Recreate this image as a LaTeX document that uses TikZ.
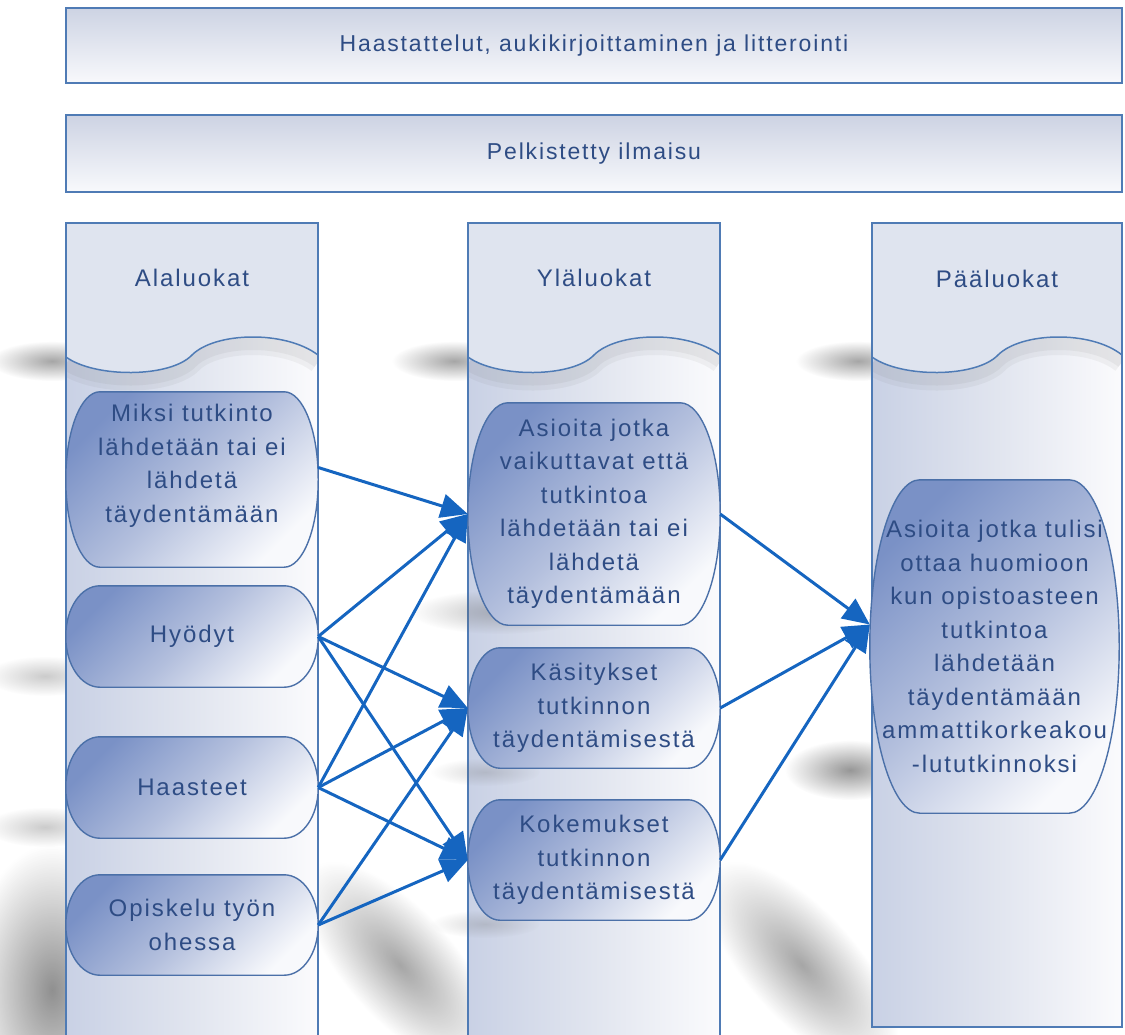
\documentclass[tikz,border=0pt]{standalone}
\usepackage{fontspec}
\setmainfont{Liberation Sans}[LetterSpace=8]
\usetikzlibrary{arrows.meta,calc,fadings}
\definecolor{txt}{HTML}{2E4C84}
\definecolor{coledge}{HTML}{4F7BB5}
\definecolor{nedge}{HTML}{4B70A8}
\definecolor{arr}{HTML}{1565C0}
\definecolor{ntop}{HTML}{7A91C6}
\definecolor{nmid}{HTML}{B3BFDD}
\definecolor{nlow}{HTML}{F8F9FC}
\definecolor{hdr}{HTML}{DFE4EF}
\definecolor{colL}{HTML}{C9D1E5}
\definecolor{colM}{HTML}{E1E5EF}
\definecolor{colR}{HTML}{FBFBFD}
\definecolor{barTop}{HTML}{CDD3E3}
\definecolor{barBot}{HTML}{F8F9FC}
\definecolor{shd}{HTML}{6A6A6A}
\tikzfading[name=fuzzy, inner color=transparent!0, outer color=transparent!100]
\pgfdeclarelayer{lowshadow}
\pgfdeclarelayer{cols}
\pgfdeclarelayer{highshadow}
\pgfdeclarelayer{shapes}
\pgfsetlayers{lowshadow,cols,highshadow,shapes,main}

% rounded box with elliptical corners around a named node
\newcommand\ellbox[3]{%
  \path[nodeshape] let \p1=(#1.north west), \p2=(#1.south east) in
   (\x1+#2pt,\y1) -- (\x2-#2pt,\y1)
   arc[start angle=90,end angle=0,x radius=#2pt,y radius=#3pt]
   -- (\x2,\y2+#3pt)
   arc[start angle=0,end angle=-90,x radius=#2pt,y radius=#3pt]
   -- (\x1+#2pt,\y2)
   arc[start angle=270,end angle=180,x radius=#2pt,y radius=#3pt]
   -- (\x1,\y1-#3pt)
   arc[start angle=180,end angle=90,x radius=#2pt,y radius=#3pt] -- cycle;}

% soft shadow blob: cx, cy (image px), rx, ry, angle, opacity
\newcommand\softblob[6]{%
  \begin{scope}[transform canvas={rotate around={#5:(#1,-#2)}}]
    \fill[shd, opacity=#6, path fading=fuzzy] (#1,-#2) ellipse [x radius=#3, y radius=#4];
  \end{scope}}

% column: left x, right x, bottom y
\newcommand\drawcol[3]{%
  \fill[left color=colL, right color=colR, middle color=colM] (#1,-223) rectangle (#2,-#3);
  \begin{scope}
    \clip (#1,-223) rectangle (#2,-#3);
    \foreach \w/\o in {22/0.07,12/0.08}{%
      \draw[shd, line width=\w pt, opacity=\o] (#1,-364) .. controls (#1+29,-385) and (#1+104,-385) .. (#1+126,-362) .. controls (#1+149,-339) and (#1+219,-337) .. (#2,-362);}
  \end{scope}
  \fill[hdr] (#1,-223) -- (#2,-223) -- (#2,-355) .. controls (#1+219,-330) and (#1+149,-332) .. (#1+126,-355) .. controls (#1+104,-378) and (#1+29,-378) .. (#1,-357) -- cycle;
  \draw[coledge, line width=1.5pt] (#1,-357) .. controls (#1+29,-378) and (#1+104,-378) .. (#1+126,-355) .. controls (#1+149,-332) and (#1+219,-330) .. (#2,-355);
  \draw[coledge, line width=2pt] (#1,-223) rectangle (#2,-#3);}

\begin{document}
\begin{tikzpicture}[x=1pt,y=1pt,
  box/.style={rectangle, inner sep=0pt, minimum width=252pt, align=center, text=txt, font=\fontsize{24}{33.5}\selectfont},
  nodeshape/.style={draw=nedge, line width=1.4pt, top color=ntop, bottom color=nlow, middle color=nmid, shading angle=45},
  bar/.style={draw=coledge, line width=2pt, top color=barTop, bottom color=barBot, minimum width=1056pt, inner sep=0pt, text=txt, font=\fontsize{23}{28}\selectfont},
  head/.style={text=txt, inner sep=0pt, font=\fontsize{24}{28}\selectfont},
  link/.style={draw=arr, line width=3pt, -{Triangle[length=27pt,width=24pt]}}]
\useasboundingbox (0,0) rectangle (1125,-1034);
\clip (0,0) rectangle (1125,-1034);

% top bars
\node[bar, minimum height=75pt] (bar1) at (594,-45.5) {Haastattelut, aukikirjoittaminen ja litterointi};
\node[bar, minimum height=77pt] (bar2) at (594,-153.5) {Pelkistetty ilmaisu};

% columns
\begin{pgfonlayer}{cols}
  \drawcol{66}{318}{1045}
  \drawcol{468}{720}{1045}
  \drawcol{872}{1122}{1027}
\end{pgfonlayer}

% shadows behind the columns
\begin{pgfonlayer}{lowshadow}
  \softblob{52}{361}{62}{20}{0}{0.6}
  \softblob{454}{361}{62}{20}{0}{0.6}
  \softblob{858}{361}{62}{20}{0}{0.6}
  \softblob{52}{990}{85}{145}{0}{0.75}
  \softblob{400}{965}{130}{55}{-48}{0.6}
  \softblob{802}{965}{130}{55}{-48}{0.6}
  \softblob{850}{770}{65}{30}{0}{0.7}
  \softblob{45}{676}{60}{20}{0}{0.35}
  \softblob{45}{827}{60}{20}{0}{0.35}
\end{pgfonlayer}

% shadows cast on the columns
\begin{pgfonlayer}{highshadow}
  \softblob{500}{612}{90}{22}{0}{0.4}
  \softblob{485}{772}{55}{14}{0}{0.25}
  \softblob{485}{924}{55}{14}{0}{0.25}
\end{pgfonlayer}

% column headings
\node[head] (h1) at (192,-278) {Alaluokat};
\node[head] (h2) at (594,-278) {Yläluokat};
\node[head] (h3) at (997,-279) {Pääluokat};

% category nodes
\node[box, minimum height=175pt] (miksi) at (192,-479.5) {};
\node[box] (miksiT) at (192,-466) {Miksi tutkinto\\lähdetään tai ei\\lähdetä\\täydentämään};
\node[box, minimum height=101pt] (hyo) at (192,-636.5) {Hyödyt};
\node[box, minimum height=101pt] (haa) at (192,-787.5) {Haasteet};
\node[box, minimum height=100pt] (opi) at (192,-925) {Opiskelu työn\\ohessa};

\node[box, minimum height=222pt] (asi) at (594,-514) {Asioita jotka\\vaikuttavat että\\tutkintoa\\lähdetään tai ei\\lähdetä\\täydentämään};
\node[box, minimum height=120pt] (kas) at (594,-708) {Käsitykset\\tutkinnon\\täydentämisestä};
\node[box, minimum height=120pt] (kok) at (594,-860) {Kokemukset\\tutkinnon\\täydentämisestä};

\node[box, minimum width=249pt, minimum height=333pt] (paa) at (994.5,-646.5) {Asioita jotka tulisi\\ottaa huomioon\\kun opistoasteen\\tutkintoa\\lähdetään\\täydentämään\\ammattikorkeakou\\-lututkinnoksi};

\begin{pgfonlayer}{shapes}
  \ellbox{miksi}{34}{87}
  \ellbox{hyo}{34}{50}
  \ellbox{haa}{34}{50}
  \ellbox{opi}{34}{50}
  \ellbox{asi}{40}{111}
  \ellbox{kas}{32}{60}
  \ellbox{kok}{32}{60}
  \ellbox{paa}{50}{166}
\end{pgfonlayer}

% connectors
\draw[link] ([yshift=12pt]miksi.east) -- (asi.west);
\draw[link] (hyo.east) -- (asi.west);
\draw[link] (haa.east) -- (asi.west);
\draw[link] (hyo.east) -- (kas.west);
\draw[link] (haa.east) -- (kas.west);
\draw[link] (opi.east) -- (kas.west);
\draw[link] (hyo.east) -- (kok.west);
\draw[link] (haa.east) -- (kok.west);
\draw[link] (opi.east) -- (kok.west);
\draw[link] (asi.east) -- ([yshift=22pt]paa.west);
\draw[link] (kas.east) -- ([yshift=22pt]paa.west);
\draw[link] (kok.east) -- ([yshift=22pt]paa.west);
\end{tikzpicture}
\end{document}
